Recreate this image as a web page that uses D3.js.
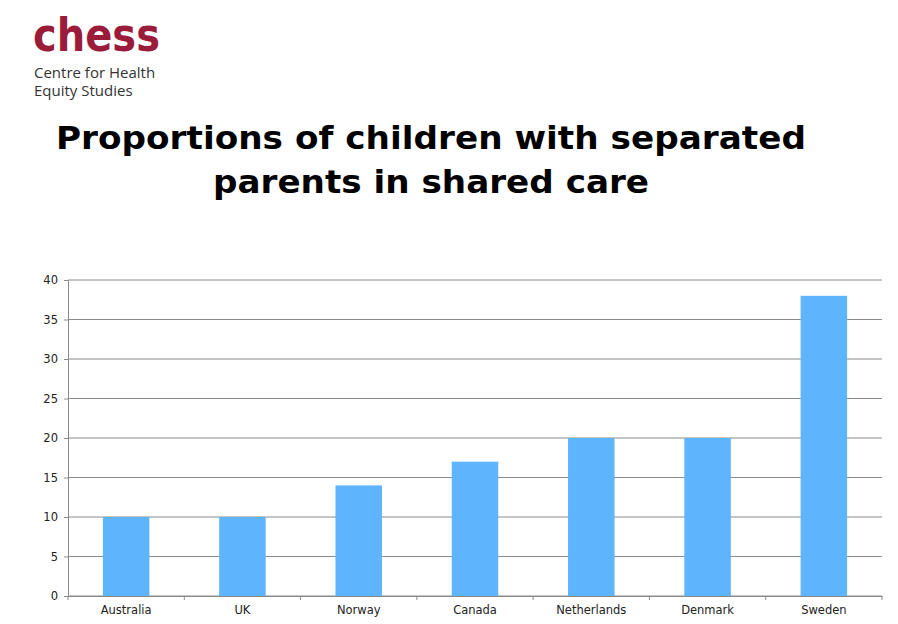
<!DOCTYPE html>
<html><head><meta charset="utf-8">
<script src="https://cdn.jsdelivr.net/npm/d3@7"></script>
<style>body{margin:0;background:#fff}</style>
</head><body><div id="container"></div>
<script>
const categories = ["Australia", "UK", "Norway", "Canada", "Netherlands", "Denmark", "Sweden"];
const values = [10, 10, 14, 17, 20, 20, 38];
const yTicks = [0, 5, 10, 15, 20, 25, 30, 35, 40];

const width = 898, height = 624,
  margin = { top: 280, bottom: 28, left: 68, right: 16 };

const svg = d3.select("#container").append("svg")
  .attr("width", width).attr("height", height)
  .style("font-family", "Verdana, 'DejaVu Sans', sans-serif");

// logo
svg.append("text").attr("x", 33).attr("y", 51)
  .style("font-family", "'DejaVu Sans'").style("font-weight", "900")
  .style("font-size", "46px").style("fill", "#9b1b3a")
  .attr("textLength", 127).attr("lengthAdjust", "spacingAndGlyphs")
  .text("chess");
svg.append("text").attr("x", 34).attr("y", 78).style("font-family", "'Open Sans'")
  .style("font-size", "15px").style("fill", "#333").text("Centre for Health");
svg.append("text").attr("x", 34).attr("y", 96).style("font-family", "'Open Sans'")
  .style("font-size", "15px").style("fill", "#333").text("Equity Studies");

// title
svg.append("text").attr("x", 431).attr("y", 149).attr("text-anchor", "middle")
  .style("font-weight", "bold").style("font-size", "32px")
  .attr("textLength", 750).attr("lengthAdjust", "spacingAndGlyphs")
  .text("Proportions of children with separated");
svg.append("text").attr("x", 431).attr("y", 193).attr("text-anchor", "middle")
  .style("font-weight", "bold").style("font-size", "32px")
  .attr("textLength", 436).attr("lengthAdjust", "spacingAndGlyphs")
  .text("parents in shared care");

const x = d3.scaleBand().domain(categories)
  .range([margin.left, width - margin.right]).paddingInner(0.6).paddingOuter(0.3);
const y = d3.scaleLinear().domain([0, 40]).range([height - margin.bottom, margin.top]);

// grid
svg.append("g").selectAll("line").data(yTicks).join("line")
  .attr("x1", margin.left).attr("x2", width - margin.right)
  .attr("y1", d => y(d)).attr("y2", d => y(d))
  .attr("stroke", "#8a8a8a").attr("stroke-width", 1);

svg.append("g").selectAll("rect").data(values).join("rect")
  .attr("x", (d, i) => x(categories[i]))
  .attr("width", x.bandwidth())
  .attr("y", d => y(d))
  .attr("height", d => y(0) - y(d))
  .attr("fill", "#5fb4fe");

const yAxis = svg.append("g").attr("transform", `translate(${margin.left},0)`)
  .call(d3.axisLeft(y).tickValues(yTicks).tickSize(4).tickPadding(6));
const xAxis = svg.append("g").attr("transform", `translate(0,${y(0)})`)
  .call(d3.axisBottom(x).tickSize(0).tickPadding(10));
// tick marks between categories
const step = x.step();
svg.append("g").selectAll("line").data(d3.range(categories.length + 1)).join("line")
  .attr("x1", i => margin.left + i * step).attr("x2", i => margin.left + i * step)
  .attr("y1", y(0)).attr("y2", y(0) + 4).attr("stroke", "#8a8a8a");

[yAxis, xAxis].forEach(g => {
  g.selectAll("path.domain, line").attr("stroke", "#8a8a8a");
  g.selectAll("text").style("font-family", "Verdana, 'DejaVu Sans', sans-serif")
    .style("font-size", "11.5px").attr("fill", "#222");
});
</script></body></html>
